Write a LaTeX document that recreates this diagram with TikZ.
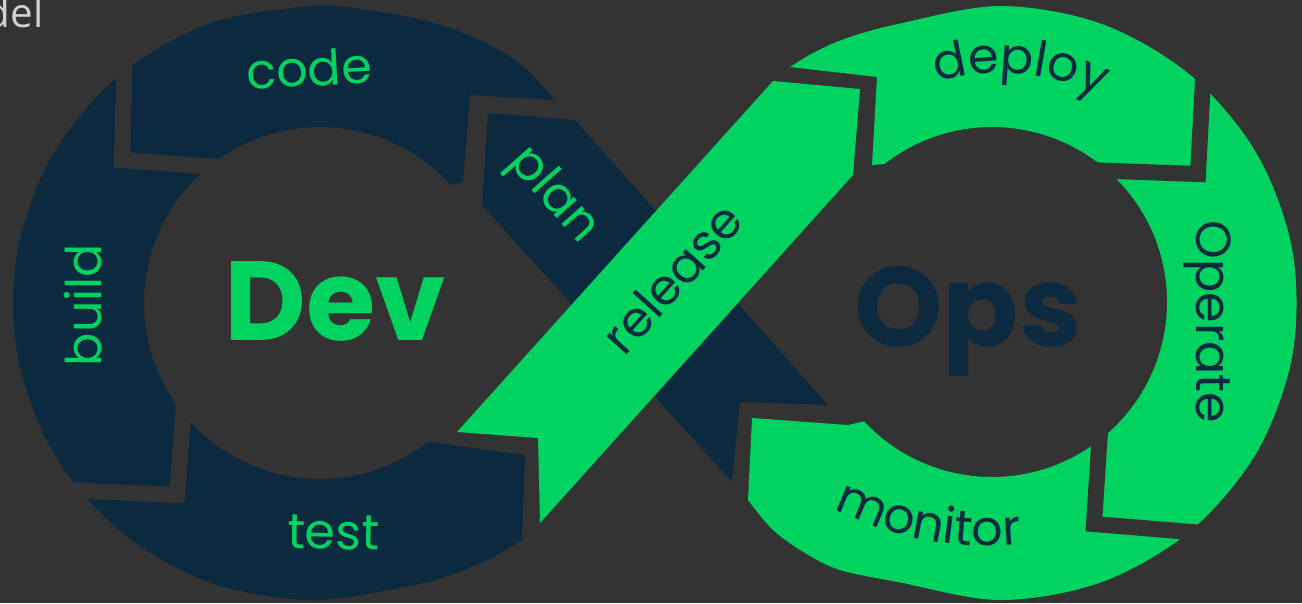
\documentclass[tikz,border=0pt]{standalone}
\usepackage{fontspec}
\usetikzlibrary{decorations.text}
\newfontfamily\popfont{Poppins}
\newfontfamily\thinfont{Open Sans}
\definecolor{dkbg}{HTML}{333333}
\definecolor{navy}{HTML}{0C2A3F}
\definecolor{devgreen}{HTML}{00D35F}
\newcommand\lblfont{\popfont\fontsize{28}{28}\selectfont}
\begin{document}
\begin{tikzpicture}[x=0.02cm, y=-0.02cm,
    devband/.style={fill=navy},
    opsband/.style={fill=devgreen},
    gap/.style={draw=dkbg, line width=0.32cm, line join=miter, miter limit=20},
    ringtext/.style={decorate, decoration={text along path, text align=center, text={#1}}},
    bandtext/.style={font=\lblfont, inner sep=0pt},
    bigword/.style={font=\popfont\bfseries\fontsize{64}{64}\selectfont, inner sep=0pt, anchor=base}]
  \useasboundingbox (0,0) rectangle (1302,603);
  \fill[dkbg] (0,0) rectangle (1302,603);
  \clip (0,0) rectangle (1302,603);
  \node[font=\thinfont\fontsize{23}{23}\selectfont, text=black!18, anchor=base east, inner sep=0pt] (title) at (44,27) {del};
  % Dev ring
  \fill[devband] plot[smooth, tension=0.55] coordinates {(555,100) (525,68) (490,45) (450,28) (405,16) (360,9) (310,6) (208.4,23.9) (119.1,75.5) (52.8,154.5) (17.5,251.4) (17.5,354.6) (52.8,451.5) (119.1,530.5) (208.4,582.1) (310,600) (410,586) (450,575) (490,559) (522,540)}
    -- (525,455) -- (428.4,441.7) arc[start angle=52, end angle=318, radius=176]
    -- (463,182) -- (470,95) -- cycle;
  \draw[gap] (125,45) -- (122,160) -- (230,168);
  \draw[gap] (186,380) -- (177,495) -- (45,489);
  \fill[devband] (488,113) -- (575,120) -- (828,405) -- (740,402) -- (732,482) -- (482,205) -- cycle;
  % Ops ring
  \fill[opsband] (790,67) -- (877,77) -- (872,165) -- (884.3,164.1) arc[start angle=232, end angle=497, radius=175]
    -- (848,425) -- (752,418) -- (748,500)
    -- plot[smooth, tension=0.55] coordinates {(748,500) (773,530) (805,553) (840,570) (898.4,582.1) (1000,600) (1101.6,582.1) (1190.9,530.5) (1257.2,451.5) (1292.5,354.6) (1292.5,251.4) (1257.2,154.5) (1190.9,75.5) (1101.6,23.9) (1000,6) (898.4,23.9) (847,38) (815,52) (790,67)} -- cycle;
  \draw[gap] (1204,60) -- (1198,174) -- (1085,170);
  \draw[gap] (1240,536) -- (1094,524) -- (1101,415);
  \fill[opsband] (457,432) -- (538,438) -- (540,523) -- (853,175) -- (860,89) -- (773,81) -- cycle;
  % labels
  \path[ringtext={|\lblfont\color{devgreen}|code}] (200,92) -- (420,80.5);
  \path[ringtext={|\lblfont\color{devgreen}|build}] (101,420) -- (101,190);
  \path[ringtext={|\lblfont\color{devgreen}|test}] (233,547) -- (433,551);
  \path[ringtext={|\lblfont\color{navy}|deploy}] (868.1,114.6) arc[start angle=235, end angle=315, radius=230];
  \path[ringtext={|\lblfont\color{navy}|Operate}] (1196,122) -- (1196,522);
  \path[ringtext={|\lblfont\color{navy}|monitor}] (721.9,418.7) arc[start angle=140.8, end angle=60.8, radius=346];
  \node[bandtext, text=devgreen, rotate=-48.4] (plan) at (553,196) {plan};
  \node[bandtext, text=navy, rotate=48] (release) at (672,278) {release};
  \node[bigword, text=devgreen] (dev) at (335,340) {Dev};
  \node[bigword, text=navy] (ops) at (968,346) {Ops};
\end{tikzpicture}
\end{document}
